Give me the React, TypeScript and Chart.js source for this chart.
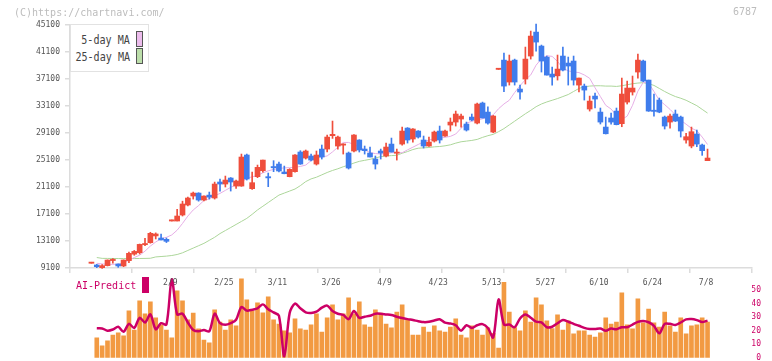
import { useEffect, useRef } from "react";
import { Chart, registerables } from "chart.js";

Chart.register(...registerables);

// Daily candles (index 0 = first session shown)
const openPrices = [
  9800, 9550, 9150, 9450, 10200, 9690, 9400, 10190, 11150, 11370,
  12550, 12850, 13850, 13540, 13350, 16060, 16060, 16950, 18430, 19760,
  20200, 19170, 19900, 19470, 21840, 21540, 22430, 21240, 21240, 25840,
  20850, 22630, 23520, 22600, 24050, 24500, 23320, 22630, 23370, 26280,
  25390, 25690, 24500, 26720, 26720, 28700, 27170, 27300, 26130, 26430,
  28060, 26720, 26130, 25240, 26430, 25690, 27460, 26100, 27460, 29830,
  28210, 29390, 28060, 27170, 27910, 29390, 28650, 30280, 30720, 31170,
  30430, 31460, 30570, 33540, 32200, 29240, 38520, 39900, 36650, 39900,
  35610, 37090, 40500, 44050, 41980, 40350, 37830, 37570, 40500, 39460,
  39760, 36200, 36050, 32650, 34570, 32200, 29980, 31320, 32350, 30480,
  33680, 35170, 38130, 39760, 36940, 32400, 33980, 31460, 30720, 31910,
  31460, 28060, 27170, 28950, 27320, 25000,
];
const highPrices = [
  9800, 9650, 9600, 10300, 10480, 9700, 10300, 11470, 11700, 12650,
  13500, 14390, 14300, 14140, 13540, 16060, 17800, 19000, 19620, 20350,
  20250, 19800, 20350, 21830, 22280, 22720, 22500, 22130, 25980, 25980,
  23320, 24350, 25100, 23170, 25000, 24800, 24200, 23810, 25900, 26480,
  26580, 25980, 26430, 27320, 28800, 30870, 28650, 27510, 26280, 28850,
  28100, 27170, 27020, 25690, 26720, 27610, 28350, 26720, 29980, 29900,
  29750, 29450, 28650, 28500, 29390, 30130, 29540, 31320, 32350, 31910,
  30720, 31910, 33540, 33680, 32990, 31700, 38520, 40940, 40650, 40050,
  36200, 41830, 44200, 45240, 42130, 40500, 38870, 40650, 41830, 40350,
  40500, 37240, 36350, 34570, 35020, 32800, 31460, 32060, 32800, 37240,
  36790, 37540, 40790, 39900, 36940, 34870, 34280, 31610, 31910, 32500,
  31610, 29050, 29980, 29540, 27460, 26720,
];
const lowPrices = [
  9800, 9150, 9050, 9400, 9800, 9200, 9300, 9890, 10980, 11170,
  12400, 12770, 13400, 13250, 12870, 16060, 16060, 16800, 18280, 19310,
  19000, 19020, 19310, 19310, 20500, 21100, 20500, 20900, 21200, 22130,
  20750, 22480, 23300, 21150, 23370, 23320, 23050, 22600, 23300, 24450,
  25240, 24950, 24350, 25240, 26280, 28300, 26720, 25980, 23760, 26280,
  26280, 25980, 25540, 23760, 25240, 25540, 26280, 25090, 27300, 27610,
  27760, 28350, 26870, 27100, 27760, 27610, 28600, 29390, 30130, 29980,
  29390, 30900, 30430, 31320, 30400, 29140, 38520, 35210, 36200, 36200,
  34130, 36350, 40050, 41240, 38130, 37680, 36200, 36940, 38300, 36200,
  36200, 35170, 33980, 32350, 32800, 30430, 28950, 30400, 30300, 30030,
  33390, 34720, 37240, 36700, 32300, 31610, 32100, 29690, 29830, 30800,
  28500, 27600, 26900, 27070, 25790, 25000,
];
const closePrices = [
  9800, 9300, 9450, 10280, 10300, 9400, 10280, 11270, 11560, 12600,
  12650, 14240, 14140, 13250, 13050, 16060, 16800, 18580, 19470, 20200,
  19170, 19760, 19600, 21540, 21540, 22130, 21840, 21990, 25540, 22280,
  21740, 24010, 25090, 22450, 23950, 23470, 23070, 23710, 25840, 24500,
  26430, 25090, 25840, 25540, 28500, 28900, 28500, 27400, 23910, 28800,
  26580, 26480, 25540, 24500, 26130, 27020, 26280, 26200, 29390, 28060,
  29690, 28500, 27170, 27760, 29240, 28060, 29390, 30720, 31910, 31610,
  29540, 31020, 33390, 31320, 30570, 31610, 38520, 36050, 39760, 36650,
  35170, 40050, 43460, 42570, 39760, 37680, 37390, 38570, 38420, 39020,
  36940, 37240, 35460, 33830, 34130, 30720, 28990, 30720, 30330, 34870,
  35760, 35760, 39900, 36790, 32350, 32300, 32200, 30130, 31610, 30870,
  29390, 28550, 29290, 27460, 26480, 25390,
];

const ma5 = [
  null, 9800, 9700, 9650, 9640, 9680, 9900, 10250, 10650, 11000,
  11600, 12350, 12950, 13450, 13640, 14000, 14700, 15700, 16800, 17700,
  18350, 19100, 19350, 19800, 20150, 20600, 21050, 21450, 21800, 22380,
  22620, 22800, 23200, 23500, 23700, 23850, 23930, 23970, 24010, 24150,
  24350, 25000, 25490, 25550, 25700, 26300, 27000, 27700, 27700, 27400,
  27000, 26600, 26200, 26050, 25990, 26050, 26180, 26180, 26180, 26600,
  27000, 27400, 27800, 28050, 28250, 28350, 28450, 28600, 28950, 29800,
  30550, 30850, 31000, 31200, 31450, 31800, 32700, 33400, 33950, 35100,
  36100, 37000, 37700, 39150, 40100, 40550, 40450, 39700, 38700, 38300,
  38150, 38050, 37700, 37200, 35800, 34500, 33200, 32650, 31700, 31100,
  31600, 33200, 35300, 36600, 36500, 35250, 33950, 33300, 32600, 31800,
  31000, 30400, 29800, 29450, 28500, 27400,
];
const ma25 = [
  null, 10650, 10530, 10520, 10510, 10500, 10500, 10500, 10500, 10510,
  10520, 10540, 10740, 10800, 10860, 10950, 11100, 11350, 11700, 12050,
  12400, 12750, 13200, 13650, 14200, 14650, 15100, 15550, 16000, 16450,
  17050, 17700, 18250, 18800, 19350, 19900, 20200, 20500, 20800, 21300,
  21900, 22300, 22550, 22900, 23250, 23550, 23800, 24100, 24350, 24650,
  24900, 25050, 25200, 25400, 25600, 25700, 25750, 25800, 26100, 26350,
  26650, 26850, 26900, 26950, 27050, 27100, 27200, 27350, 27600, 27800,
  27900, 28000, 28150, 28450, 28700, 28900, 29300, 29750, 30300, 30850,
  31400, 31950, 32450, 33000, 33400, 33700, 33950, 34200, 34500, 34800,
  35250, 35700, 35950, 36050, 36100, 36100, 36050, 36050, 36000, 36100,
  36250, 36400, 36500, 36550, 36400, 36150, 35700, 35250, 34850, 34500,
  34250, 33950, 33550, 33150, 32600, 32050,
];

// Relative traded volume, drawn on the lower panel
const volume = [
  null, 14.6, 8.7, 12.4, 16.8, 18.3, 16.1, 34.6, 20.5, 42,
  32.4, 41.3, 29.4, 24.2, 20.5, 14.6, 49.4, 42, 27.9, 32.9,
  21.3, 13.1, 10.9, 35.3, 26.4, 20.5, 27.9, 23.5, 58.3, 42.7,
  34.6, 40.5, 33.1, 45, 27.9, 24.9, 19.8, 18.3, 28.7, 21.3,
  20.5, 24.2, 32.4, 19, 29.4, 39, 27.9, 32.4, 44.2, 32.4,
  41.3, 24.2, 22.7, 35.3, 32.9, 24.9, 22, 33.8, 39, 27.9,
  16.8, 16.8, 22.7, 19, 23.5, 19.8, 19, 22.7, 28.7, 16.8,
  14.6, 23.5, 20.5, 16.8, 22, 18, 7.2, 55.6, 33.8, 22.2,
  19.8, 34.6, 26.4, 44.2, 39, 27.2, 21.5, 31.6, 20.5, 27.2,
  17.6, 19.8, 19.8, 16.8, 15.3, 18.3, 29.4, 24.9, 26.4, 47.9,
  24.2, 21.3, 43.5, 25.7, 36, 25.7, 22.7, 33.8, 23.5, 19,
  29.4, 17.6, 23.5, 24.2, 29.4, 26.4,
];

// AI-Predict score (right axis, 0-50)
const aiPredict = [
  null, 21.7, 21.6, 20, 20.8, 22.8, 19.2, 25, 22, 29.5,
  26, 32, 21, 25.5, 24.5, 58, 32, 32.5, 26, 20.5,
  19.5, 20.5, 19.5, 32.5, 25.5, 24.3, 25.5, 28, 37.5, 34.8,
  35.5, 36.5, 39.4, 35.8, 33.5, 31, 1, 33, 40, 36.5,
  33.5, 33, 34, 37, 38.5, 34.5, 32.5, 31.6, 28.5, 34.5,
  29.5, 30.3, 31, 32.5, 32.5, 32, 31.5, 30.3, 29.3, 28.5,
  27.8, 27, 26.3, 26.5, 27.5, 28.4, 25.9, 25.3, 24, 20,
  24, 22, 24, 24.8, 22, 15, 43, 24.5, 24.5, 22.5,
  29, 32, 29.5, 26.7, 26.1, 22.5, 22.9, 25.5, 27.8, 26.6,
  25, 23.6, 22, 21.2, 21.2, 21.5, 20, 21.5, 21, 22.5,
  22.5, 24.5, 26.5, 27.2, 26.2, 23.5, 18, 25, 25, 24.2,
  26, 28.3, 28.6, 27.8, 26.3, 27.4,
];

const dateLabels = ["2/9", "2/25", "3/11", "3/26", "4/9", "4/23", "5/13", "5/27", "6/10", "6/24", "7/8"];
const dateLabelIndex = [15, 25, 35, 45, 55, 65, 75, 85, 95, 105, 115];
const priceTicks = [9100, 13100, 17100, 21100, 25100, 29100, 33100, 37100, 41100, 45100];
const aiTicks = [0, 10, 20, 30, 40, 50];

const MONO = '"DejaVu Sans Mono", monospace';
const UP = "#ef4e3c";
const DOWN = "#3f7cec";
const MA5_COLOR = "#e6aee6";
const MA25_COLOR = "#acd69a";
const AI_COLOR = "rgb(204,0,102)";
const VOL_COLOR = "#f29a42";
const X_MIN = -4;
const X_MAX = 123.3;

export default function App() {
  const mainRef = useRef<HTMLCanvasElement | null>(null);
  const subRef = useRef<HTMLCanvasElement | null>(null);

  useEffect(() => {
    const candleColors = closePrices.map((c, i) => (c >= openPrices[i] ? UP : DOWN));

    const main = new Chart(mainRef.current as HTMLCanvasElement, {
      type: "bar",
      data: {
        datasets: [
          {
            type: "bar",
            label: "body",
            data: closePrices.map((c, i) => ({ x: i, y: [openPrices[i], c] })) as any,
            backgroundColor: candleColors,
            barThickness: 5,
            minBarLength: 1.2,
            grouped: false,
            borderWidth: 0,
            order: 0,
            clip: false as any,
          },
          {
            type: "bar",
            label: "wick",
            data: highPrices.map((h, i) => ({ x: i, y: [lowPrices[i], h] })) as any,
            backgroundColor: candleColors,
            barThickness: 1,
            minBarLength: 1,
            grouped: false,
            borderWidth: 0,
            order: 1,
            clip: false as any,
          },
          {
            type: "line",
            label: "5-day MA",
            data: ma5.map((v, i) => ({ x: i, y: v })) as any,
            borderColor: MA5_COLOR,
            borderWidth: 1,
            pointRadius: 0,
            tension: 0,
            order: 2,
          },
          {
            type: "line",
            label: "25-day MA",
            data: ma25.map((v, i) => ({ x: i, y: v })) as any,
            borderColor: MA25_COLOR,
            borderWidth: 1,
            pointRadius: 0,
            tension: 0,
            order: 3,
          },
        ],
      },
      options: {
        animation: false,
        responsive: false,
        events: [],
        layout: { padding: { left: 0, right: 20, top: 25, bottom: 6 } },
        plugins: { legend: { display: false }, tooltip: { enabled: false } },
        scales: {
          x: { type: "linear", offset: false, min: X_MIN, max: X_MAX, display: false },
          xg: {
            type: "linear",
            position: "bottom",
            offset: false,
            min: 0,
            max: 11,
            ticks: { display: false, stepSize: 1 },
            grid: { drawOnChartArea: false, tickLength: 5, color: "#dcdcdc", lineWidth: 1.5, offset: false },
            border: { color: "#dcdcdc", width: 1.5 },
            afterFit: (s: any) => {
              s.height = 6;
            },
          } as any,
          y: {
            type: "linear",
            min: 9100,
            max: 45100,
            afterBuildTicks: (s: any) => {
              s.ticks = priceTicks.map((v) => ({ value: v }));
            },
            ticks: {
              font: { family: MONO, size: 8 },
              color: "#555",
              padding: 5,
              callback: (v: any) => String(v),
            },
            grid: { drawOnChartArea: false, tickLength: 5, color: "#dcdcdc", lineWidth: 1.5 },
            border: { color: "#dcdcdc", width: 1.5 },
            afterFit: (s: any) => {
              s.width = 70;
            },
          },
        },
      },
    });

    const dateLabelPlugin = {
      id: "dateLabels",
      afterDatasetsDraw(chart: any) {
        const xs = chart.scales.x;
        const ctx = chart.ctx;
        ctx.save();
        ctx.font = `8px ${MONO}`;
        ctx.fillStyle = "#555";
        ctx.textAlign = "center";
        ctx.textBaseline = "middle";
        dateLabelIndex.forEach((idx, k) => {
          ctx.fillText(dateLabels[k], xs.getPixelForValue(idx) - 1.5, 13);
        });
        ctx.restore();
      },
    };

    const sub = new Chart(subRef.current as HTMLCanvasElement, {
      type: "bar",
      data: {
        datasets: [
          {
            type: "line",
            label: "AI-Predict",
            data: aiPredict.map((v, i) => ({ x: i, y: v })) as any,
            borderColor: AI_COLOR,
            borderWidth: 2.5,
            pointRadius: 0,
            tension: 0.3,
            yAxisID: "y",
            order: 0,
            clip: false as any,
          },
          {
            type: "bar",
            label: "volume",
            data: volume.map((v, i) => ({ x: i, y: v })) as any,
            backgroundColor: VOL_COLOR,
            barThickness: 4,
            grouped: false,
            borderWidth: 0,
            yAxisID: "yv",
            order: 1,
          },
        ],
      },
      options: {
        animation: false,
        responsive: false,
        events: [],
        layout: { padding: { left: 70, right: 11, top: 6.5, bottom: 12.3 } },
        plugins: { legend: { display: false }, tooltip: { enabled: false } },
        scales: {
          x: { type: "linear", offset: false, min: X_MIN, max: X_MAX, display: false },
          yv: { type: "linear", min: 0, max: 60, display: false },
          y: {
            type: "linear",
            position: "right",
            min: 0,
            max: 60,
            afterBuildTicks: (s: any) => {
              s.ticks = aiTicks.map((v) => ({ value: v }));
            },
            ticks: {
              font: { family: MONO, size: 8 },
              color: AI_COLOR,
              padding: 0,
              crossAlign: "far",
              callback: (v: any) => String(v),
            },
            grid: { display: false, drawTicks: false },
            border: { display: false },
            afterFit: (s: any) => {
              s.width = 9;
            },
          },
        },
      },
      plugins: [dateLabelPlugin],
    });

    return () => {
      main.destroy();
      sub.destroy();
    };
  }, []);

  const text = (extra: any) => ({ position: "absolute" as const, fontFamily: MONO, whiteSpace: "nowrap" as const, ...extra });

  return (
    <div style={{ position: "fixed", left: 0, top: 0, width: 772, height: 361, overflow: "hidden", background: "#fff" }}>
      <canvas ref={mainRef} width={772} height={280} style={{ position: "absolute", left: 0, top: 0, width: 772, height: 280 }} />
      <canvas ref={subRef} width={772} height={100} style={{ position: "absolute", left: 0, top: 270, width: 772, height: 100 }} />

      <div style={text({ left: 14, top: 6, fontSize: 10, lineHeight: "14px", color: "#bdbdbd" })}>(C)https://chartnavi.com/</div>
      <div style={text({ right: 15, top: 5, fontSize: 10, lineHeight: "14px", color: "#bdbdbd" })}>6787</div>

      <div style={{ position: "absolute", left: 70, top: 24, width: 79, height: 48, border: "1px solid #e2e2e2", background: "#fff", boxSizing: "border-box" }} />
      <div style={text({ right: 642, top: 33, fontSize: 12, lineHeight: "14px", color: "#444", transform: "scaleX(0.84)", transformOrigin: "right center" })}>5-day MA</div>
      <div style={text({ right: 642, top: 50, fontSize: 12, lineHeight: "14px", color: "#444", transform: "scaleX(0.84)", transformOrigin: "right center" })}>25-day MA</div>
      <div style={{ position: "absolute", left: 136, top: 31, width: 7, height: 16, background: "#ecbcec", border: "1px solid #555", boxSizing: "border-box" }} />
      <div style={{ position: "absolute", left: 136, top: 48, width: 7, height: 16, background: "#bcdeaa", border: "1px solid #555", boxSizing: "border-box" }} />

      <div style={text({ left: 76, top: 279, fontSize: 10, lineHeight: "14px", color: AI_COLOR })}>AI-Predict</div>
      <div style={{ position: "absolute", left: 142, top: 277, width: 7, height: 16, background: AI_COLOR }} />
    </div>
  );
}
